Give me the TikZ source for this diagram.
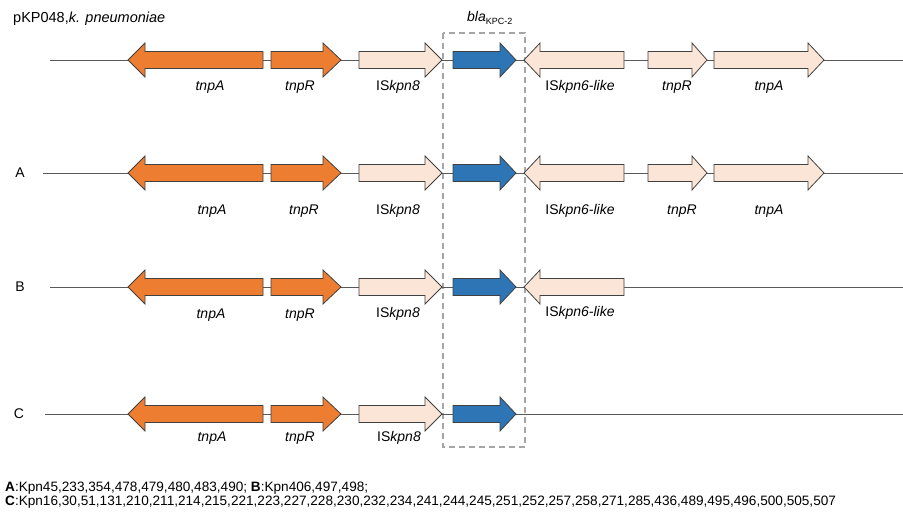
\documentclass[tikz,border=0pt]{standalone}
\usepackage{fontspec}
\setmainfont{Liberation Sans}
\definecolor{lineg}{HTML}{595959}
\definecolor{edgeg}{HTML}{404040}
\definecolor{orangeg}{HTML}{ED7D31}
\definecolor{peachg}{HTML}{FBE5D6}
\definecolor{blueg}{HTML}{2E75B6}
\definecolor{dashg}{HTML}{A6A6A6}
\newcommand{\geneR}[5]{\draw[gene,#5] (#1,#4-8.5) -- (#2,#4-8.5) -- (#2,#4-17) -- (#3,#4) -- (#2,#4+17) -- (#2,#4+8.5) -- (#1,#4+8.5) -- cycle;}
\newcommand{\geneL}[5]{\draw[gene,#5] (#1,#4) -- (#2,#4-17) -- (#2,#4-8.5) -- (#3,#4-8.5) -- (#3,#4+8.5) -- (#2,#4+8.5) -- (#2,#4+17) -- cycle;}
\begin{document}
\begin{tikzpicture}[x=1pt,y=-1pt,
  gene/.style={draw=edgeg,line width=0.8pt,line join=miter},
  orf/.style={fill=orangeg},
  isf/.style={fill=peachg},
  blf/.style={fill=blueg},
  backbone/.style={draw=lineg,line width=0.9pt},
  lab/.style={inner sep=0pt,font=\fontsize{14}{16}\selectfont},
  rowlab/.style={inner sep=0pt,font=\fontsize{14}{16}\selectfont},
  note/.style={inner sep=0pt,anchor=base west,font=\fontsize{13.6}{15}\selectfont}]
\useasboundingbox (0,0) rectangle (903,513);

% title
\node[inner sep=0pt,anchor=west,font=\fontsize{14.5}{16}\selectfont] (title) at (13,19) {pKP048,\textit{k. pneumoniae}};
\node[lab] (blalab) at (490,18) {\textit{bla}\textsubscript{\fontsize{9}{10}\selectfont KPC-2}};

% dashed box
\draw[dashg,line width=1.4pt,dash pattern=on 6pt off 4pt] (443,33) rectangle (525,447);

% ---- row 0 ----
\coordinate (r0s) at (50,60); \coordinate (r0e) at (903,60);
\draw[backbone] (r0s) -- (r0e);
\geneL{128}{145}{263}{60}{orf}
\geneR{271}{323}{341}{60}{orf}
\geneR{359}{425}{442}{60}{isf}
\geneR{453}{500}{516}{60}{blf}
\geneL{524}{540}{624}{60}{isf}
\geneR{648}{692}{707}{60}{isf}
\geneR{714}{808}{824}{60}{isf}
\node[lab] (l0a) at (210,87) {\textit{tnpA}};
\node[lab] (l0b) at (300,87) {\textit{tnpR}};
\node[lab] (l0c) at (398,87) {IS\textit{kpn8}};
\node[lab] (l0d) at (580,87) {IS\textit{kpn6-like}};
\node[lab] (l0e) at (677,87) {\textit{tnpR}};
\node[lab] (l0f) at (769,87) {\textit{tnpA}};

% ---- row A ----
\node[rowlab] (rA) at (20,173) {A};
\coordinate (rAs) at (43,173); \coordinate (rAe) at (903,173);
\draw[backbone] (rAs) -- (rAe);
\geneL{128}{145}{263}{173}{orf}
\geneR{271}{323}{341}{173}{orf}
\geneR{359}{425}{442}{173}{isf}
\geneR{453}{500}{516}{173}{blf}
\geneL{524}{540}{624}{173}{isf}
\geneR{648}{692}{707}{173}{isf}
\geneR{714}{808}{824}{173}{isf}
\node[lab] (lAa) at (212,211) {\textit{tnpA}};
\node[lab] (lAb) at (304,211) {\textit{tnpR}};
\node[lab] (lAc) at (398,211) {IS\textit{kpn8}};
\node[lab] (lAd) at (580,211) {IS\textit{kpn6-like}};
\node[lab] (lAe) at (682,211) {\textit{tnpR}};
\node[lab] (lAf) at (769,211) {\textit{tnpA}};

% ---- row B ----
\node[rowlab] (rB) at (20,287) {B};
\coordinate (rBs) at (50,287); \coordinate (rBe) at (903,287);
\draw[backbone] (rBs) -- (rBe);
\geneL{128}{145}{263}{287}{orf}
\geneR{271}{323}{341}{287}{orf}
\geneR{359}{425}{442}{287}{isf}
\geneR{453}{500}{516}{287}{blf}
\geneL{524}{540}{624}{287}{isf}
\node[lab] (lBa) at (211,315) {\textit{tnpA}};
\node[lab] (lBb) at (300,315) {\textit{tnpR}};
\node[lab] (lBc) at (398,314) {IS\textit{kpn8}};
\node[lab] (lBd) at (580,313) {IS\textit{kpn6-like}};

% ---- row C ----
\node[rowlab] (rC) at (19,414) {C};
\coordinate (rCs) at (45,414); \coordinate (rCe) at (903,414);
\draw[backbone] (rCs) -- (rCe);
\geneL{128}{145}{263}{414}{orf}
\geneR{271}{323}{341}{414}{orf}
\geneR{359}{425}{442}{414}{isf}
\geneR{453}{500}{516}{414}{blf}
\node[lab] (lCa) at (212,438) {\textit{tnpA}};
\node[lab] (lCb) at (300,438) {\textit{tnpR}};
\node[lab] (lCc) at (399,438) {IS\textit{kpn8}};

% notes
\node[note] (n1) at (5,491) {\textbf{A}:Kpn45,233,354,478,479,480,483,490; \textbf{B}:Kpn406,497,498;};
\node[note] (n2) at (5,505) {\textbf{C}:Kpn16,30,51,131,210,211,214,215,221,223,227,228,230,232,234,241,244,245,251,252,257,258,271,285,436,489,495,496,500,505,507};
\end{tikzpicture}
\end{document}
